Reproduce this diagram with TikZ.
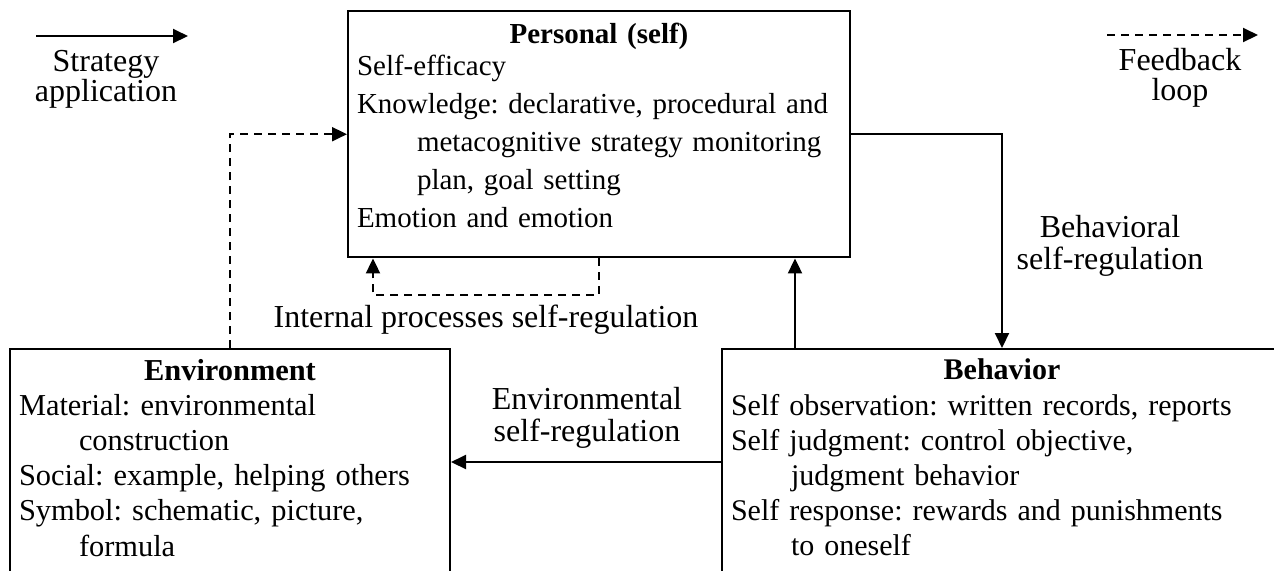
\documentclass[tikz,border=0pt]{standalone}
\usepackage{fontspec}
\setmainfont{Liberation Serif}
\usetikzlibrary{arrows.meta}
\tikzset{
    boxnode/.style={draw,line width=1pt,anchor=north west,inner xsep=4.5pt,inner ysep=5pt},
    lbl/.style={align=center,inner sep=0pt,font=\fontsize{16}{16}\selectfont\frenchspacing},
    keylbl/.style={lbl,font=\fontsize{16}{15}\selectfont},
    solidarrow/.style={line width=1pt,-{Triangle[length=7.5pt,width=7pt]}},
    dasharrow/.style={solidarrow,dash pattern=on 4pt off 3pt}
}
\newcommand{\itm}{\par\hangindent=30pt\hangafter=1 }
\newcommand{\boxtitle}[2][0pt]{{\centering\bfseries #2\par}\vspace{#1}\raggedright\frenchspacing}

\begin{document}
\begin{tikzpicture}[x=0.5pt,y=-0.5pt]
\useasboundingbox (0,0) rectangle (1274,570);

\node[boxnode,inner ysep=6pt,text width=242pt,text depth=101pt,font=\fontsize{14.5}{19}\selectfont] (pers) at (347,10) {\boxtitle[-3pt]{Personal (self)}
    \itm Self-efficacy
    \itm Knowledge: declarative, procedural and\newline metacognitive strategy monitoring\newline plan, goal setting
    \itm Emotion and emotion\par};
\node[boxnode,text width=211pt,text depth=125pt,font=\fontsize{15.2}{17.6}\selectfont] (env) at (9,348) {\boxtitle{Environment}
    \itm Material: environmental\newline construction
    \itm Social: example, helping others
    \itm Symbol: schematic, picture,\newline formula\par};
\node[boxnode,text width=271pt,text depth=125pt,font=\fontsize{15}{17.6}\selectfont] (beh) at (721,348) {\boxtitle{Behavior}
    \itm Self observation: written records, reports
    \itm Self judgment: control objective,\newline judgment behavior
    \itm Self response: rewards and punishments\newline to oneself\par};

\draw[solidarrow] (pers.east) -| (beh.north);
\coordinate (upfoot) at ([xshift=37pt]beh.north west);
\draw[solidarrow] (upfoot) -- (upfoot |- pers.south);
\coordinate (envfoot) at ([yshift=-57pt]beh.north west);
\draw[solidarrow] (envfoot) -- (envfoot -| env.east);
\draw[dasharrow] (env.north) |- (pers.west);
\draw[dasharrow] (pers.south) -- ++(0,37) -| ([xshift=13pt]pers.south west);

\node[lbl] (intlbl) at (486,320) {Internal processes self-regulation};
\node[lbl] (envlbl) at (587,418) {Environmental\\self-regulation};
\node[lbl] (behlbl) at (1110,246) {Behavioral\\self-regulation};

\coordinate (sa1) at (36,36);
\coordinate (sa2) at (188,36);
\draw[solidarrow] (sa1) -- (sa2);
\node[keylbl] (salbl) at (106,79) {Strategy\\application};
\coordinate (fb1) at (1107,35);
\coordinate (fb2) at (1258,35);
\draw[dasharrow] (fb1) -- (fb2);
\node[keylbl] (fblbl) at (1180,78) {Feedback\\loop};
\end{tikzpicture}
\end{document}
